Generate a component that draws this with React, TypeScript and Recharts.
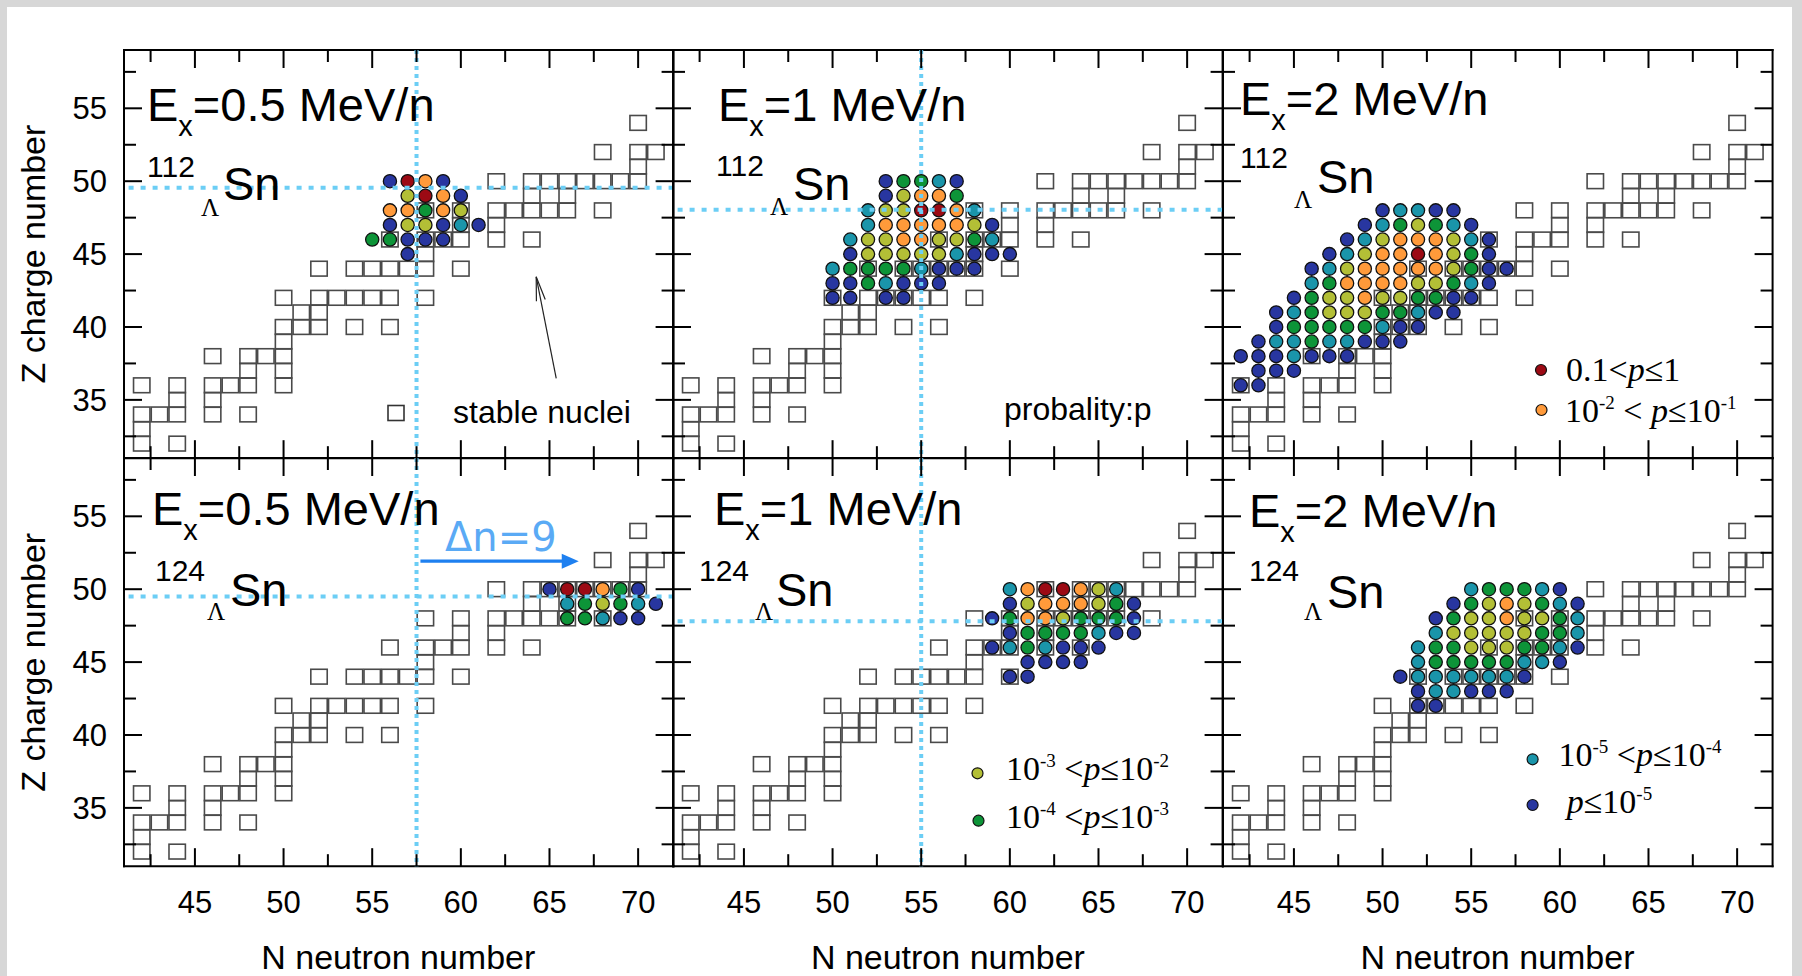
import React from 'react';
import { ScatterChart, Scatter, XAxis, YAxis, ReferenceLine } from 'recharts';

// ---------- layout constants ----------
const PAGE_W = 1802;
const PAGE_H = 976;
const PX0 = 123.5; // left edge of first panel
const PY0 = 50; // top edge of first row
const PW = 549.6; // panel plot width
const PH = 408.2; // panel plot height
const AX = 1; // thickness given to each axis box

const SANS = "'Liberation Sans', Arial, Helvetica, sans-serif";
const SERIF = "'Liberation Serif', 'Times New Roman', serif";
const CYAN = '#6ccef5';

// ---------- axes ----------
const N_DOMAIN: [number, number] = [41, 72];
const Z_DOMAIN: [number, number] = [31, 59];
const N_TICKS = [42.5, 45, 47.5, 50, 52.5, 55, 57.5, 60, 62.5, 65, 67.5, 70];
const Z_TICKS = [32.5, 35, 37.5, 40, 42.5, 45, 47.5, 50, 52.5, 55, 57.5];
const N_LABELS = [45, 50, 55, 60, 65, 70];
const Z_LABELS = [35, 40, 45, 50, 55];

// ---------- probability classes ----------
// 0: 0.1<p<=1, 1: 1e-2<p<=1e-1, 2: 1e-3<p<=1e-2, 3: 1e-4<p<=1e-3, 4: 1e-5<p<=1e-4, 5: p<=1e-5
const PROB_COLORS = ['#9c0a14', '#ff9a3a', '#b3bf36', '#0d9438', '#1a95aa', '#2836a0'];

// ---------- stable nuclei (Z rows, N values) ----------
const STABLE_Z = [32, 33, 34, 35, 36, 37, 38, 39, 40, 41, 42, 44, 45, 46, 47, 48, 49, 50, 51, 52, 54];
const STABLE_N = [
  [42, 44],
  [42],
  [42, 43, 44, 46, 48],
  [44, 46],
  [42, 44, 46, 47, 48, 50],
  [48, 50],
  [46, 48, 49, 50],
  [50],
  [50, 51, 52, 54, 56],
  [51, 52],
  [50, 52, 53, 54, 55, 56, 58],
  [52, 54, 55, 56, 57, 58, 60],
  [58],
  [56, 58, 59, 60, 62, 64],
  [60, 62],
  [58, 60, 62, 63, 64, 65, 66, 68],
  [64, 66],
  [62, 64, 65, 66, 67, 68, 69, 70],
  [70],
  [68, 70, 71],
  [70],
];

// ---------- fragment probabilities: [Z, first N, classes along N] ----------
type Row = [number, number, (number | null)[]];

const SN112_E05: Row[] = [
  [50, 56, [5, 0, 1, 5]],
  [49, 57, [2, 0, 1, 5]],
  [48, 56, [1, 1, 3, 1, 2]],
  [47, 56, [5, 2, 2, 5, 4, 5]],
  [46, 55, [3, 3, 5, 5, 5]],
  [45, 57, [5]],
];

const SN112_E1: Row[] = [
  [50, 53, [5, 3, 3, 4, 5]],
  [49, 53, [5, 2, 1, 1, 3]],
  [48, 52, [4, 2, 2, 0, 0, 1, 4]],
  [47, 52, [4, 1, 1, 1, 1, 1, 2, 5]],
  [46, 51, [4, 2, 2, 1, 1, 2, 2, 3, 4]],
  [45, 51, [5, 2, 2, 2, 2, 2, 4, 5, 5, 5]],
  [44, 50, [4, 3, 3, 3, 3, 4, 5, 5, 5]],
  [43, 50, [5, 5, 3, 4, 5, 5, 5]],
  [42, 50, [5, 5, null, 5, 5]],
];

const SN112_E2: Row[] = [
  [48, 50, [5, 4, 4, 5, 5]],
  [47, 49, [5, 4, 3, 2, 3, 4, 5]],
  [46, 48, [5, 4, 2, 1, 1, 1, 2, 4, 5]],
  [45, 47, [5, 4, 2, 1, 1, 0, 1, 2, 3, 5]],
  [44, 46, [5, 4, 2, 1, 1, 1, 1, 1, 2, 3, 5, 5]],
  [43, 46, [4, 3, 1, 1, 1, 1, 2, 2, 3, 4, 5]],
  [42, 45, [5, 3, 2, 2, 1, 2, 2, 3, 3, 5, 5]],
  [41, 44, [5, 4, 3, 2, 2, 2, 3, 3, 4, 5, 5]],
  [40, 44, [5, 3, 3, 3, 3, 3, 4, 5, 5]],
  [39, 43, [5, 4, 4, 3, 4, 4, 5, 5, 5]],
  [38, 42, [5, 5, 5, 4, 5, 5, 5]],
  [37, 43, [5, 5, 5]],
  [36, 42, [5, 5]],
];

const SN124_E05: Row[] = [
  [50, 65, [5, 0, 0, 1, 3, 5]],
  [49, 66, [4, 3, 2, 3, 4, 5]],
  [48, 66, [3, 3, 4, 5, 5]],
];

const SN124_E1: Row[] = [
  [50, 60, [4, 1, 0, 0, 1, 2, 4]],
  [49, 60, [5, 2, 1, 1, 1, 2, 3, 5]],
  [48, 59, [5, 3, 1, 1, 2, 3, 3, 3, 5]],
  [47, 60, [5, 3, 3, 3, 3, 4, 5, 5]],
  [46, 59, [5, 4, 3, 4, 5, 5, 5]],
  [45, 61, [5, 5, 5, 5]],
  [44, 60, [5, 5]],
];

const SN124_E2: Row[] = [
  [50, 55, [4, 3, 3, 3, 4, 5]],
  [49, 54, [5, 3, 2, 1, 2, 3, 4, 5]],
  [48, 53, [5, 3, 2, 2, 1, 2, 2, 3, 4]],
  [47, 53, [4, 2, 2, 2, 2, 2, 3, 3, 4]],
  [46, 52, [4, 3, 3, 2, 2, 2, 3, 3, 4, 5]],
  [45, 52, [4, 3, 3, 3, 3, 3, 4, 4, 5]],
  [44, 51, [5, 4, 4, 4, 4, 4, 4, 5]],
  [43, 52, [5, 4, 4, 5, 5, 5]],
  [42, 52, [5, 5]],
];

// guide lines (dotted cyan)
const GUIDE_N = [57.5, 55, null, 57.5, 55, null];
const GUIDE_Z = [49.55, 48.05, null, 49.5, 47.8, null];

// annotation arrows (data coordinates)
const STABLE_ARROW = [{ x: 65.38, y: 36.47 }, { x: 64.25, y: 43.44 }];
const DN_ARROW = [{ x: 57.72, y: 51.92 }, { x: 66.65, y: 51.92 }];

// ---------- build point lists ----------
const stablePoints = STABLE_Z.flatMap((z, i) => STABLE_N[i].map((n) => ({ n, z })));
const toPoints = (rows: Row[]) =>
  rows.flatMap(([z, n0, cls]) =>
    cls
      .map((c, k) => (c === null ? null : { n: n0 + k, z, c }))
      .filter((p) => p !== null) as { n: number; z: number; c: number }[]
  );

const PANEL_DOTS = [SN112_E05, SN112_E1, SN112_E2, SN124_E05, SN124_E1, SN124_E2].map(toPoints);

// ---------- shapes ----------
const SquareShape = (p: any) => (
  <rect x={p.cx - 8.2} y={p.cy - 7.4} width={16.4} height={14.8} fill="none" stroke="#4a4a4a" strokeWidth={1.6} />
);

const DotShape = (p: any) => {
  const c = p.payload && p.payload.c !== undefined ? p.payload.c : p.c;
  return <circle cx={p.cx} cy={p.cy} r={6.6} fill={PROB_COLORS[c]} stroke="#111" strokeWidth={1.3} />;
};

const majorLen = 18;
const minorLen = 12;
const TICK_FONT = 31;

const BottomTick = (p: any, showLabel: boolean) => {
  const v = p.payload.value;
  const major = N_LABELS.includes(v);
  return (
    <g key={`b${v}`}>
      <line x1={p.x} y1={p.y} x2={p.x} y2={p.y - (major ? majorLen : minorLen)} stroke="#000" strokeWidth={2} />
      {showLabel && major && (
        <text x={p.x} y={p.y + 47} textAnchor="middle" fontFamily={SANS} fontSize={TICK_FONT} fill="#000">
          {v}
        </text>
      )}
    </g>
  );
};
const TopTick = (p: any) => {
  const v = p.payload.value;
  const major = N_LABELS.includes(v);
  return (
    <g key={`t${v}`}>
      <line x1={p.x} y1={p.y} x2={p.x} y2={p.y + (major ? majorLen : minorLen)} stroke="#000" strokeWidth={2} />
    </g>
  );
};
const LeftTick = (p: any, showLabel: boolean) => {
  const v = p.payload.value;
  const major = Z_LABELS.includes(v);
  return (
    <g key={`l${v}`}>
      <line x1={p.x} y1={p.y} x2={p.x + (major ? majorLen : minorLen)} y2={p.y} stroke="#000" strokeWidth={2} />
      {showLabel && major && (
        <text x={p.x - 17} y={p.y + 11} textAnchor="end" fontFamily={SANS} fontSize={TICK_FONT} fill="#000">
          {v}
        </text>
      )}
    </g>
  );
};
const RightTick = (p: any) => {
  const v = p.payload.value;
  const major = Z_LABELS.includes(v);
  return (
    <g key={`r${v}`}>
      <line x1={p.x} y1={p.y} x2={p.x - (major ? majorLen : minorLen)} y2={p.y} stroke="#000" strokeWidth={2} />
    </g>
  );
};

const ArrowShape = (color: string, width: number, filled: boolean) => (p: any) => {
  const { x1, y1, x2, y2 } = p;
  const dx = x2 - x1;
  const dy = y2 - y1;
  const len = Math.sqrt(dx * dx + dy * dy) || 1;
  const ux = dx / len;
  const uy = dy / len;
  const hl = filled ? 17 : 24;
  const hw = filled ? 7.5 : 4.5;
  const bx = x2 - ux * hl;
  const by = y2 - uy * hl;
  const lx = bx - uy * hw;
  const ly = by + ux * hw;
  const rx = bx + uy * hw;
  const ry = by - ux * hw;
  return filled ? (
    <g>
      <line x1={x1} y1={y1} x2={bx + ux * 2} y2={by + uy * 2} stroke={color} strokeWidth={width} />
      <polygon points={`${x2},${y2} ${lx},${ly} ${rx},${ry}`} fill={color} />
    </g>
  ) : (
    <g>
      <line x1={x1} y1={y1} x2={x2} y2={y2} stroke={color} strokeWidth={width} />
      <polyline points={`${lx},${ly} ${x2},${y2} ${rx},${ry}`} fill="none" stroke={color} strokeWidth={width} />
    </g>
  );
};

const AXIS_LINE = { stroke: '#000', strokeWidth: 2, strokeLinecap: 'square' as const };

function Panel({ index }: { index: number }) {
  const col = index % 3;
  const row = Math.floor(index / 3);
  const ML = col === 0 ? 120 : 6;
  const MR = 6;
  const MT = 6;
  const MB = row === 1 ? 60 : 6;
  const plotLeft = PX0 + col * PW;
  const plotTop = PY0 + row * PH;
  const vN = GUIDE_N[index];
  const hZ = GUIDE_Z[index];
  return (
    <div style={{ position: 'absolute', left: plotLeft - ML, top: plotTop - MT }}>
      <ScatterChart
        width={PW + ML + MR}
        height={PH + MT + MB}
        margin={{ left: ML - AX, right: MR - AX, top: MT - AX, bottom: MB - AX }}
      >
        <XAxis
          xAxisId="b"
          type="number"
          dataKey="n"
          domain={N_DOMAIN}
          ticks={N_TICKS}
          interval={0}
          allowDataOverflow
          height={AX}
          tickSize={0}
          tickMargin={0}
          tickLine={false}
          axisLine={AXIS_LINE}
          tick={(p: any) => BottomTick(p, row === 1)}
        />
        <XAxis
          xAxisId="t"
          orientation="top"
          type="number"
          dataKey="n"
          domain={N_DOMAIN}
          ticks={N_TICKS}
          interval={0}
          allowDataOverflow
          height={AX}
          tickSize={0}
          tickMargin={0}
          tickLine={false}
          axisLine={AXIS_LINE}
          tick={TopTick}
        />
        <YAxis
          yAxisId="l"
          type="number"
          dataKey="z"
          domain={Z_DOMAIN}
          ticks={Z_TICKS}
          interval={0}
          allowDataOverflow
          width={AX}
          tickSize={0}
          tickMargin={0}
          tickLine={false}
          axisLine={AXIS_LINE}
          tick={(p: any) => LeftTick(p, col === 0)}
        />
        <YAxis
          yAxisId="r"
          orientation="right"
          type="number"
          dataKey="z"
          domain={Z_DOMAIN}
          ticks={Z_TICKS}
          interval={0}
          allowDataOverflow
          width={AX}
          tickSize={0}
          tickMargin={0}
          tickLine={false}
          axisLine={AXIS_LINE}
          tick={RightTick}
        />
        <Scatter
          name="stable nuclei"
          xAxisId="b"
          yAxisId="l"
          data={stablePoints}
          shape={SquareShape}
          isAnimationActive={false}
        />
        <Scatter
          name="probability"
          xAxisId="t"
          yAxisId="r"
          data={PANEL_DOTS[index]}
          shape={DotShape}
          isAnimationActive={false}
        />
        {hZ !== null && (
          <ReferenceLine
            xAxisId="t"
            yAxisId="r"
            y={hZ}
            stroke={CYAN}
            strokeWidth={4}
            strokeDasharray="5 7"
            zIndex={700}
          />
        )}
        {vN !== null && (
          <ReferenceLine
            xAxisId="t"
            yAxisId="r"
            x={vN}
            stroke={CYAN}
            strokeWidth={4}
            strokeDasharray="4 4"
            zIndex={700}
          />
        )}
        {index === 0 && (
          <ReferenceLine
            xAxisId="t"
            yAxisId="r"
            segment={STABLE_ARROW}
            ifOverflow="visible"
            stroke="#000"
            shape={ArrowShape('#222', 1.2, false)}
            zIndex={700}
          />
        )}
        {index === 3 && (
          <ReferenceLine
            xAxisId="t"
            yAxisId="r"
            segment={DN_ARROW}
            ifOverflow="visible"
            stroke="#1e80f0"
            shape={ArrowShape('#1e80f0', 3.2, true)}
            zIndex={700}
          />
        )}
      </ScatterChart>
    </div>
  );
}

// ---------- text annotations ----------
const TITLES = [
  { x: 147, y: 121, e: '0.5' },
  { x: 718, y: 121, e: '1' },
  { x: 1240, y: 115, e: '2' },
  { x: 152, y: 525, e: '0.5' },
  { x: 714, y: 525, e: '1' },
  { x: 1249, y: 527, e: '2' },
];
const NUCLIDES = [
  { a: '112', ax: 147, ay: 177, lx: 201, ly: 216, sx: 223, sy: 200 },
  { a: '112', ax: 716, ay: 176, lx: 770, ly: 215, sx: 793, sy: 200 },
  { a: '112', ax: 1240, ay: 168, lx: 1294, ly: 208, sx: 1317, sy: 193 },
  { a: '124', ax: 155, ay: 581, lx: 207, ly: 620, sx: 230, sy: 606 },
  { a: '124', ax: 699, ay: 581, lx: 755, ly: 620, sx: 776, sy: 606 },
  { a: '124', ax: 1249, ay: 581, lx: 1304, ly: 620, sx: 1327, sy: 608 },
];

const SUP = 19;
const SUPDY = 13;

function Overlay() {
  return (
    <svg
      width={PAGE_W}
      height={PAGE_H}
      style={{ position: 'absolute', left: 0, top: 0, pointerEvents: 'none' }}
    >
      {TITLES.map((t, i) => (
        <text key={`t${i}`} x={t.x} y={t.y} fontFamily={SANS} fontSize={47} fill="#000">
          E
          <tspan fontSize={29} dy={15}>
            x
          </tspan>
          <tspan dy={-15}>{`=${t.e} MeV/n`}</tspan>
        </text>
      ))}
      {NUCLIDES.map((n, i) => (
        <g key={`n${i}`}>
          <text x={n.ax} y={n.ay} fontFamily={SANS} fontSize={30} fill="#000">
            {n.a}
          </text>
          <text x={n.lx} y={n.ly} fontFamily={SERIF} fontSize={25} fill="#000">
            Λ
          </text>
          <text x={n.sx} y={n.sy} fontFamily={SANS} fontSize={47} fill="#000">
            Sn
          </text>
        </g>
      ))}

      {/* stable nuclei legend */}
      <rect x={388} y={405.5} width={16} height={15} fill="none" stroke="#333" strokeWidth={1.6} />
      <text x={453} y={423} fontFamily={SANS} fontSize={32} fill="#000">
        stable nuclei
      </text>
      <text x={1004} y={420} fontFamily={SANS} fontSize={32} fill="#000">
        probality:p
      </text>

      {/* probability legend, panel 3 */}
      <circle cx={1541} cy={370} r={5.5} fill={PROB_COLORS[0]} stroke="#111" strokeWidth={1.2} />
      <text x={1566} y={381} fontFamily={SERIF} fontSize={34} fill="#000">
        0.1&lt;<tspan fontStyle="italic">p</tspan>≤1
      </text>
      <circle cx={1541.5} cy={410} r={5.5} fill={PROB_COLORS[1]} stroke="#111" strokeWidth={1.2} />
      <text x={1565} y={421.5} fontFamily={SERIF} fontSize={34} fill="#000">
        10
        <tspan fontSize={SUP} dy={-SUPDY}>
          -2
        </tspan>
        <tspan dy={SUPDY}> &lt; </tspan>
        <tspan fontStyle="italic">p</tspan>≤10
        <tspan fontSize={SUP} dy={-SUPDY}>
          -1
        </tspan>
      </text>

      {/* probability legend, panel 5 */}
      <circle cx={977.5} cy={773.3} r={5.5} fill={PROB_COLORS[2]} stroke="#111" strokeWidth={1.2} />
      <text x={1006} y={779.5} fontFamily={SERIF} fontSize={34} fill="#000">
        10
        <tspan fontSize={SUP} dy={-SUPDY}>
          -3
        </tspan>
        <tspan dy={SUPDY}> &lt;</tspan>
        <tspan fontStyle="italic">p</tspan>≤10
        <tspan fontSize={SUP} dy={-SUPDY}>
          -2
        </tspan>
      </text>
      <circle cx={978.5} cy={820.7} r={5.5} fill={PROB_COLORS[3]} stroke="#111" strokeWidth={1.2} />
      <text x={1006} y={827.5} fontFamily={SERIF} fontSize={34} fill="#000">
        10
        <tspan fontSize={SUP} dy={-SUPDY}>
          -4
        </tspan>
        <tspan dy={SUPDY}> &lt;</tspan>
        <tspan fontStyle="italic">p</tspan>≤10
        <tspan fontSize={SUP} dy={-SUPDY}>
          -3
        </tspan>
      </text>

      {/* probability legend, panel 6 */}
      <circle cx={1532.6} cy={759.3} r={5.5} fill={PROB_COLORS[4]} stroke="#111" strokeWidth={1.2} />
      <text x={1558.5} y={766} fontFamily={SERIF} fontSize={34} fill="#000">
        10
        <tspan fontSize={SUP} dy={-SUPDY}>
          -5
        </tspan>
        <tspan dy={SUPDY}> &lt;</tspan>
        <tspan fontStyle="italic">p</tspan>≤10
        <tspan fontSize={SUP} dy={-SUPDY}>
          -4
        </tspan>
      </text>
      <circle cx={1532.6} cy={805} r={5.5} fill={PROB_COLORS[5]} stroke="#111" strokeWidth={1.2} />
      <text x={1566.7} y={812.7} fontFamily={SERIF} fontSize={34} fill="#000">
        <tspan fontStyle="italic">p</tspan>≤10
        <tspan fontSize={SUP} dy={-SUPDY}>
          -5
        </tspan>
      </text>

      {/* Δn = 9 */}
      <text x={445} y={550.5} fontFamily="'DejaVu Sans', Verdana, sans-serif" fontSize={40} fill="#5aaaf5">
        Δn=9
      </text>

      {/* axis titles */}
      {[0, 1].map((r) => (
        <text
          key={`zt${r}`}
          x={0}
          y={0}
          transform={`translate(45, ${PY0 + r * PH + PH / 2}) rotate(-90)`}
          textAnchor="middle"
          fontFamily={SANS}
          fontSize={34}
          fill="#000"
        >
          Z charge number
        </text>
      ))}
      {[0, 1, 2].map((c) => (
        <text
          key={`nt${c}`}
          x={PX0 + c * PW + PW / 2}
          y={969}
          textAnchor="middle"
          fontFamily={SANS}
          fontSize={34}
          fill="#000"
        >
          N neutron number
        </text>
      ))}
    </svg>
  );
}

export default function App() {
  return (
    <div
      style={{
        position: 'absolute',
        left: 0,
        top: 0,
        width: PAGE_W,
        height: PAGE_H,
        background: '#d7d7d7',
        overflow: 'hidden',
      }}
    >
      <div style={{ position: 'absolute', left: 7, top: 7, width: PAGE_W - 17, height: PAGE_H, background: '#fff' }} />
      {[0, 1, 2, 3, 4, 5].map((i) => (
        <Panel key={i} index={i} />
      ))}
      <Overlay />
    </div>
  );
}
